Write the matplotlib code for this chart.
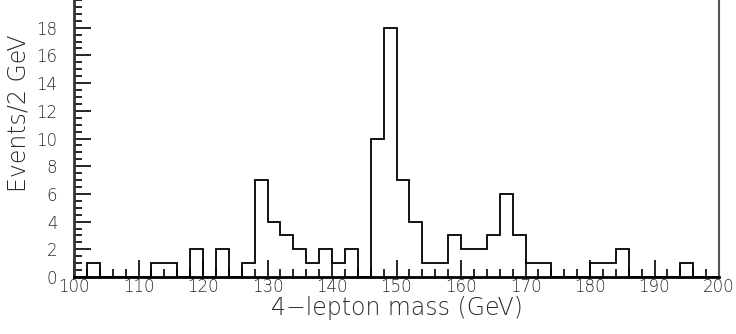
import numpy as np
import matplotlib.pyplot as plt
from matplotlib.ticker import MultipleLocator

# 4-lepton invariant mass, 2 GeV bins from 100 to 200 GeV
bin_edges = np.arange(100, 202, 2)
counts = [0, 1, 0, 0, 0, 0, 1, 1, 0, 2,
          0, 2, 0, 1, 7, 4, 3, 2, 1, 2,
          1, 2, 0, 10, 18, 7, 4, 1, 1, 3,
          2, 2, 3, 6, 3, 1, 1, 0, 0, 0,
          1, 1, 2, 0, 0, 0, 0, 1, 0, 0]

plt.rcParams['font.family'] = ['DejaVu Sans']
text_color = '#2a2a2a'

fig = plt.figure(figsize=(7.36, 3.34), dpi=100)
ax = fig.add_axes([74 / 736, 57 / 334, 645 / 736, 277 / 334])

ax.stairs(counts, bin_edges, color='black', linewidth=1.3)

ax.set_xlim(100, 200)
ax.set_ylim(0, 20)

ax.xaxis.set_major_locator(MultipleLocator(10))
ax.xaxis.set_minor_locator(MultipleLocator(2))
ax.yaxis.set_minor_locator(MultipleLocator(0.5))
ax.set_yticks(np.arange(0, 20, 2))

ax.tick_params(which='both', direction='in', colors='black', width=1.2,
               labelcolor=text_color, labelsize=12)
ax.tick_params(which='major', length=12)
ax.tick_params(which='minor', length=6)
ax.tick_params(axis='x', pad=1)
ax.tick_params(axis='y', pad=12)
for lab in ax.get_xticklabels() + ax.get_yticklabels():
    lab.set_fontweight('light')

ax.spines['top'].set_visible(False)
ax.spines['left'].set_linewidth(2)
ax.spines['left'].set_color('#333333')
ax.spines['bottom'].set_linewidth(2)
ax.spines['right'].set_linewidth(1.5)
ax.spines['right'].set_color('#555555')

ax.set_xlabel('4\u2212lepton mass (GeV)', fontsize=17, color=text_color,
              fontweight='light', labelpad=0)
ax.set_ylabel('Events/2 GeV', fontsize=17, color=text_color,
              fontweight='light')
ax.yaxis.set_label_coords(-0.067, 0.59)

fig.savefig('out.png', dpi=100)
